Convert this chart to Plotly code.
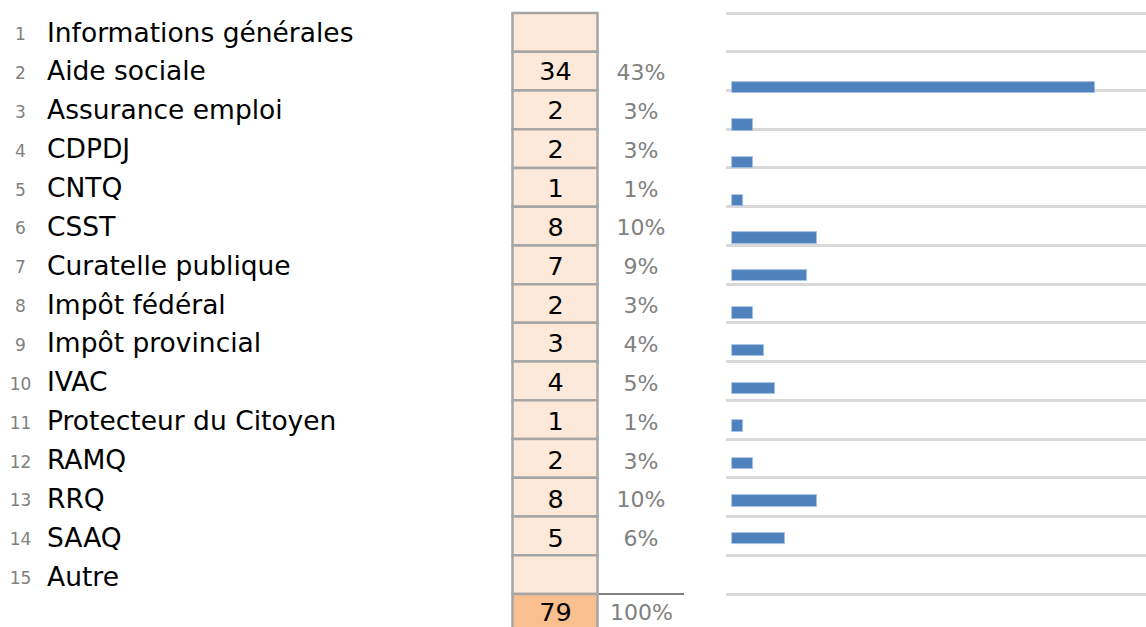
import plotly.graph_objects as go

# ---------------- data ----------------
row_numbers = list(range(1, 16))
categories = ["Informations générales", "Aide sociale", "Assurance emploi", "CDPDJ", "CNTQ",
              "CSST", "Curatelle publique", "Impôt fédéral", "Impôt provincial", "IVAC",
              "Protecteur du Citoyen", "RAMQ", "RRQ", "SAAQ", "Autre"]
counts = [None, 34, 2, 2, 1, 8, 7, 2, 3, 4, 1, 2, 8, 5, None]
percents = [None, 43, 3, 3, 1, 10, 9, 3, 4, 5, 1, 3, 10, 6, None]
total_count = 79
total_percent = 100

# ---------------- layout constants ----------------
W, H = 1146, 627
FONT = "DejaVu Sans"
GRAY_TXT = "#808080"
CELL_FILL = "#FDE9D9"
TOTAL_FILL = "#FABF8F"
CELL_BORDER = "#A6A6A6"
BAR_COLOR = "#4F81BD"
GRID = "#D9D9D9"

# table axis (row units): boundary 0 at px 13, boundary 15 at px 594
row_px = (594 - 13) / 15.0
y_top = -13 / row_px
y_bot = (H - 13) / row_px

# bar axis (category units): centre k at px 12.3 + 37.6k
cat_px = 37.6
yb_top = -12.3 / cat_px
yb_bot = (H - 12.3) / cat_px

# bar x axis: value 0 at px 732, 10.68 px per unit, domain starts at px 726
unit_px = 10.68
bar_dom0 = 726 / W
xb_min = -(732 - 726) / unit_px
xb_max = (W - 732) / unit_px

n = len(categories)


def text_rows(extra_px, count=n):
    """row centres (row units) shifted so that text baselines line up"""
    return [i + 0.5 + (extra_px + 0.13 * i) / row_px for i in range(count)]


fig = go.Figure()

# invisible trace so the gridline axis (x2/y3) exists
fig.add_trace(go.Scatter(x=[None], y=[None], mode="markers", hoverinfo="skip",
                         showlegend=False, xaxis="x2", yaxis="y3"))

# row numbers
fig.add_trace(go.Scatter(
    x=[20.5] * n, y=text_rows(3.5), mode="text",
    text=[str(r) for r in row_numbers], textposition="middle center",
    textfont=dict(family=FONT, size=17, color=GRAY_TXT),
    hoverinfo="skip", showlegend=False, xaxis="x", yaxis="y"))

# category labels
fig.add_trace(go.Scatter(
    x=[47] * n, y=text_rows(2.6), mode="text",
    text=categories, textposition="middle right",
    textfont=dict(family=FONT, size=26.5, color="#000000"),
    hoverinfo="skip", showlegend=False, xaxis="x", yaxis="y"))

# counts inside cells
fig.add_trace(go.Scatter(
    x=[555.5] * n, y=text_rows(2.8), mode="text",
    text=["" if c is None else str(c) for c in counts], textposition="middle center",
    textfont=dict(family=FONT, size=25.5, color="#000000"),
    hoverinfo="skip", showlegend=False, xaxis="x", yaxis="y"))

# percents
fig.add_trace(go.Scatter(
    x=[641] * n, y=text_rows(3.2), mode="text",
    text=["" if p is None else f"{p}%" for p in percents], textposition="middle center",
    textfont=dict(family=FONT, size=22, color=GRAY_TXT),
    hoverinfo="skip", showlegend=False, xaxis="x", yaxis="y"))

# totals
fig.add_trace(go.Scatter(
    x=[555.5], y=[n + 0.5 + 1.0 / row_px], mode="text", text=[str(total_count)],
    textposition="middle center",
    textfont=dict(family=FONT, size=25.5, color="#000000"),
    hoverinfo="skip", showlegend=False, xaxis="x", yaxis="y"))
fig.add_trace(go.Scatter(
    x=[641.5], y=[n + 0.5 + 1.5 / row_px], mode="text", text=[f"{total_percent}%"],
    textposition="middle center",
    textfont=dict(family=FONT, size=22, color=GRAY_TXT),
    hoverinfo="skip", showlegend=False, xaxis="x", yaxis="y"))

# horizontal bars
bar_y = [i + 1 for i, c in enumerate(counts) if c is not None]
bar_x = [c for c in counts if c is not None]
fig.add_trace(go.Bar(
    x=bar_x, y=bar_y, orientation="h", width=0.3,
    marker=dict(color=BAR_COLOR, line=dict(color="#A9C4E8", width=0.8)),
    hoverinfo="skip", showlegend=False, xaxis="x2", yaxis="y2"))

shapes = []
# table cells
for i in range(n):
    shapes.append(dict(type="rect", xref="x", yref="y", x0=512.5, x1=597.5, y0=i, y1=i + 1,
                       fillcolor=CELL_FILL, line=dict(color=CELL_BORDER, width=2.5), layer="below"))
# total cell
shapes.append(dict(type="rect", xref="x", yref="y", x0=512.5, x1=597.5, y0=n, y1=n + 1.2,
                   fillcolor=TOTAL_FILL, line=dict(color=CELL_BORDER, width=2.5), layer="below"))
# underline of percents
shapes.append(dict(type="line", xref="x", yref="y", x0=599, x1=684, y0=n, y1=n,
                   line=dict(color="#000000", width=1.2)))

fig.update_layout(
    width=W, height=H,
    margin=dict(l=0, r=0, t=0, b=0),
    paper_bgcolor="white", plot_bgcolor="rgba(0,0,0,0)",
    shapes=shapes,
    bargap=0,
    xaxis=dict(domain=[0, 1], range=[0, W], visible=False, fixedrange=True),
    yaxis=dict(domain=[0, 1], range=[y_bot, y_top], visible=False, fixedrange=True),
    xaxis2=dict(domain=[bar_dom0, 1], range=[xb_min, xb_max], showgrid=False, zeroline=False,
                showline=False, showticklabels=False, ticks="", anchor="y3", fixedrange=True),
    yaxis3=dict(domain=[0, 1], range=[y_bot, y_top], anchor="x2",
                tickvals=list(range(0, n + 1)), showgrid=True, gridcolor=GRID, gridwidth=3,
                showticklabels=False, zeroline=False, showline=False, ticks="", fixedrange=True),
    yaxis2=dict(domain=[0, 1], range=[yb_bot, yb_top], anchor="x2", overlaying="y3",
                visible=False, fixedrange=True),
)

fig.write_html("out.html", config={"displayModeBar": False},
               post_script="document.body.style.margin='0px';")
